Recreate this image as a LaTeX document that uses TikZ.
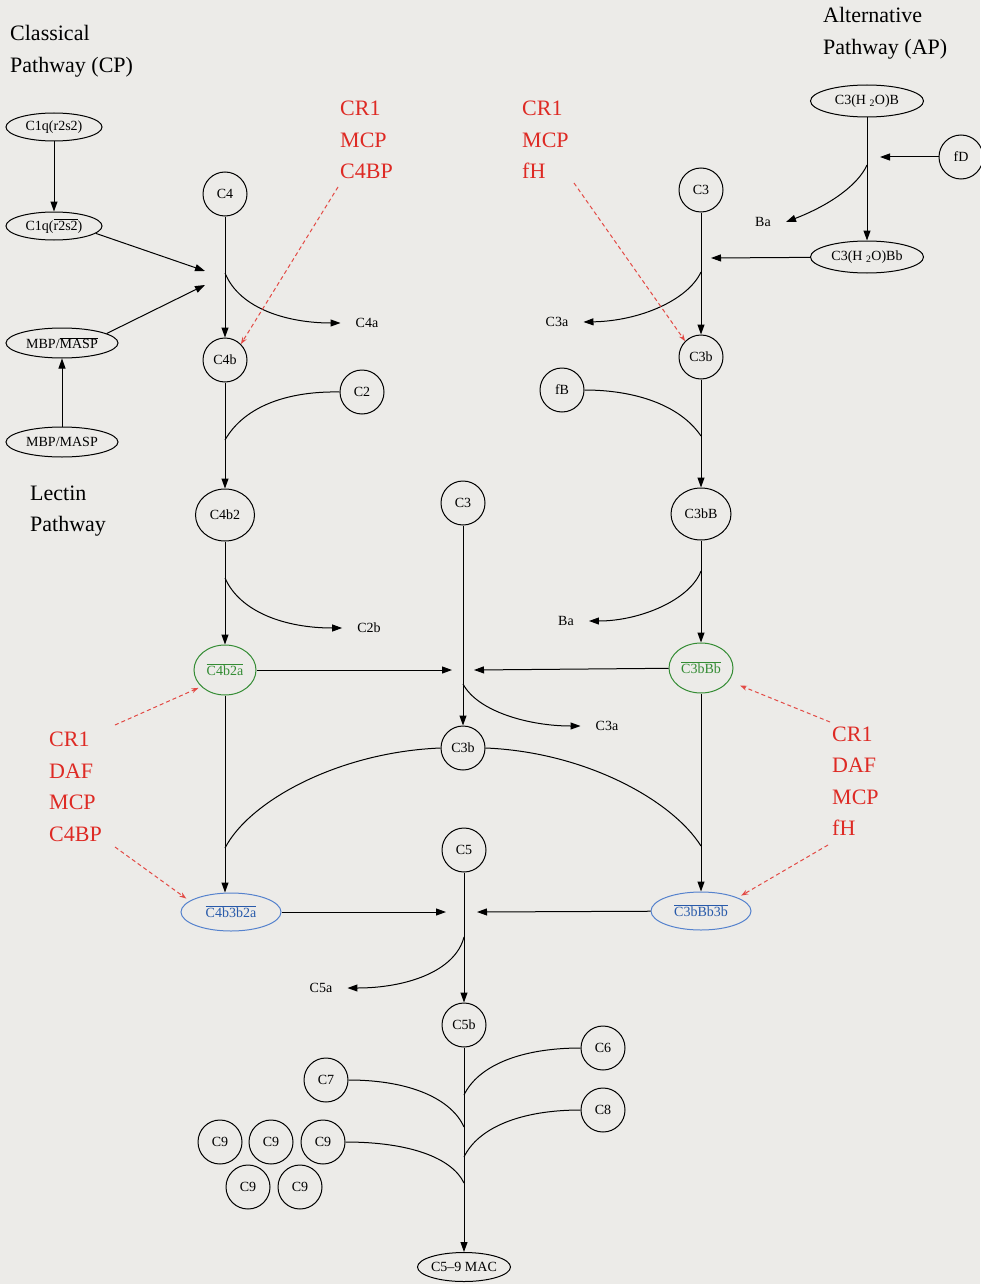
\documentclass[tikz,border=0pt]{standalone}
\usepackage{fontspec}
\setmainfont{Liberation Serif}
\usetikzlibrary{shapes.geometric,arrows.meta}
\definecolor{bg}{RGB}{236,235,232}
\definecolor{redt}{RGB}{222,42,36}
\definecolor{greent}{RGB}{52,140,52}
\definecolor{bluet}{RGB}{40,90,170}
\definecolor{blued}{RGB}{85,130,205}
\newcommand\nodefnt{\fontsize{14}{15}\selectfont}
\newcommand\bigfnt{\fontsize{22}{31.5}\selectfont}
\begin{document}
\begin{tikzpicture}[x=1pt,y=-1pt,
  base/.style={draw,line width=1pt,inner sep=0pt,font=\nodefnt},
  circ/.style={base,circle,minimum size=44pt},
  ell/.style={base,ellipse},
  lbl/.style={font=\nodefnt,inner xsep=15pt,inner ysep=2pt},
  ttl/.style={font=\bigfnt,align=left,anchor=west,inner sep=0pt},
  inh/.style={ttl,text=redt},
  arr/.style={line width=1pt,-{Triangle[length=10pt,width=7pt]}},
  ln/.style={line width=1pt},
  dsh/.style={draw=redt!85,line width=1pt,dash pattern=on 4pt off 3pt,-{Stealth[length=7pt,width=5pt,open]}}]
\fill[bg] (0,0) rectangle (980,1284);
\useasboundingbox (0,0) rectangle (980,1284);

% titles
\node[ttl] (tcp) at (10,51) {Classical\\Pathway (CP)};
\node[ttl] (tap) at (823,33) {Alternative\\Pathway (AP)};
\node[ttl] (tlp) at (30,511) {Lectin\\Pathway};

% inhibitors
\node[inh] (rA) at (340,140) {CR1\\MCP\\C4BP};
\node[inh] (rB) at (522,140) {CR1\\MCP\\fH};
\node[inh] (rC) at (49,787) {CR1\\DAF\\MCP\\C4BP};
\node[inh] (rD) at (832,781) {CR1\\DAF\\MCP\\fH};

% classical / lectin
\node[ell,minimum width=96pt,minimum height=28pt] (c1q) at (54,127) {C1q(r2s2)};
\node[ell,minimum width=96pt,minimum height=28pt] (c1qa) at (54,226) {C1q($\overline{\mbox{r2s2}}$)};
\node[ell,minimum width=112pt,minimum height=30pt] (mbpa) at (62,343) {MBP/$\overline{\mbox{MASP}}$};
\node[ell,minimum width=112pt,minimum height=30pt] (mbp) at (62,442) {MBP/MASP};
\node[circ] (C4) at (225,194) {C4};
\node[circ] (C4b) at (225,360) {C4b};
\node[circ] (C2) at (362,392) {C2};
\node[ell,minimum width=59pt,minimum height=52pt] (C4b2) at (225,515) {C4b2};
\node[ell,draw=greent,text=greent,minimum width=62pt,minimum height=50pt] (C4b2a) at (225,670) {$\overline{\mbox{C4b2a}}$};
\node[ell,draw=blued,text=bluet,minimum width=100pt,minimum height=38pt] (C4b3b2a) at (231,912) {$\overline{\mbox{C4b3b2a}}$};
\node[lbl] (C4a) at (367,323) {C4a};
\node[lbl] (C2b) at (369,628) {C2b};

% middle
\node[circ] (C3m) at (463,503) {C3};
\node[circ] (C3bm) at (463,748) {C3b};
\node[circ] (C5) at (464,850) {C5};
\node[circ] (C5b) at (464,1025) {C5b};
\node[ell,minimum width=92pt,minimum height=29pt] (MAC) at (464,1267) {C5–9 MAC};
\node[lbl] (C3am) at (607,726) {C3a};
\node[lbl] (C5a) at (321,988) {C5a};
\node[circ] (C6) at (603,1048) {C6};
\node[circ] (C7) at (326,1080) {C7};
\node[circ] (C8) at (603,1110) {C8};
\node[circ] (C9a) at (220,1142) {C9};
\node[circ] (C9b) at (271,1142) {C9};
\node[circ] (C9c) at (323,1142) {C9};
\node[circ] (C9d) at (248,1187) {C9};
\node[circ] (C9e) at (300,1187) {C9};

% alternative
\node[ell,minimum width=113pt,minimum height=32pt] (h2ob) at (867,101) {C3(H \textsubscript{2}O)B};
\node[circ] (fD) at (961,157) {fD};
\node[ell,minimum width=113pt,minimum height=32pt] (h2obb) at (867,257) {C3(H \textsubscript{2}O)Bb};
\node[lbl] (Ba1) at (763,222) {Ba};
\node[circ] (C3r) at (701,190) {C3};
\node[circ] (C3br) at (701,357) {C3b};
\node[circ] (fB) at (562,390) {fB};
\node[ell,minimum width=60pt,minimum height=52pt] (C3bB) at (701,514) {C3bB};
\node[ell,draw=greent,text=greent,minimum width=64pt,minimum height=50pt] (C3bBb) at (701,668) {$\overline{\mbox{C3bBb}}$};
\node[ell,draw=blued,text=bluet,minimum width=100pt,minimum height=38pt] (C3bBb3b) at (701,911) {$\overline{\mbox{C3bBb3b}}$};
\node[lbl] (C3ar) at (557,322) {C3a};
\node[lbl] (Ba2) at (566,621) {Ba};

% junction coordinates
\coordinate (p1) at (205,271);
\coordinate (p2) at (205,285);
\coordinate (j1) at (225,273);
\coordinate (j2) at (225,440);
\coordinate (j3) at (225,578);
\coordinate (m1) at (452,670);
\coordinate (m2) at (474,670);
\coordinate (j4) at (463,684);
\coordinate (j5) at (225,848);
\coordinate (j6) at (701,846);
\coordinate (m3) at (446,912);
\coordinate (m4) at (477,912);
\coordinate (j7) at (464,937);
\coordinate (k6) at (464,1095);
\coordinate (k7) at (464,1127);
\coordinate (k8) at (464,1157);
\coordinate (k9) at (464,1183);
\coordinate (a1) at (867,165);
\coordinate (a2) at (880,157);
\coordinate (a3) at (711,258);
\coordinate (b1) at (701,272);
\coordinate (b2) at (701,436);
\coordinate (b3) at (701,571);
\coordinate (sA) at (338,187);
\coordinate (sB) at (574,183);
\coordinate (sC1) at (115,725);
\coordinate (sC2) at (115,847);
\coordinate (sD1) at (830,722);
\coordinate (sD2) at (828,845);

% classical connectors
\draw[arr] (c1q) -- (c1qa);
\draw[arr] (mbp) -- (mbpa);
\draw[arr] (c1qa.-10) -- (p1);
\draw[arr] (mbpa.12) -- (p2);
\draw[arr] (C4) -- (C4b);
\draw[arr] (j1) .. controls (240,310) and (290,323) .. (C4a.west);
\draw[ln] (C2.west) .. controls (290,391) and (245,405) .. (j2);
\draw[arr] (C4b) -- (C4b2);
\draw[arr] (C4b2) -- (C4b2a);
\draw[arr] (j3) .. controls (240,612) and (285,628) .. (C2b.west);
\draw[arr] (C4b2a) -- (m1);
\draw[arr] (C4b2a) -- (C4b2a |- C4b3b2a.north);
\draw[ln] (C3bm.west) .. controls (340,752) and (250,800) .. (j5);

% middle connectors
\draw[arr] (C3m) -- (C3bm);
\draw[arr] (j4) .. controls (478,712) and (530,726) .. (C3am.west);
\draw[arr] (C3bBb) -- (m2);
\draw[ln] (C3bm.east) .. controls (585,752) and (672,800) .. (j6);
\draw[arr] (C4b3b2a) -- (m3);
\draw[arr] (C3bBb3b) -- (m4);
\draw[arr] (C5) -- (C5b);
\draw[arr] (j7) .. controls (455,972) and (405,988) .. (C5a.east);
\draw[arr] (C5b) -- (MAC);
\draw[ln] (C6.west) .. controls (520,1048) and (478,1066) .. (k6);
\draw[ln] (C7.east) .. controls (412,1080) and (452,1100) .. (k7);
\draw[ln] (C8.west) .. controls (520,1110) and (478,1128) .. (k8);
\draw[ln] (C9c.east) .. controls (410,1142) and (452,1158) .. (k9);

% alternative connectors
\draw[arr] (h2ob) -- (h2obb);
\draw[arr] (fD) -- (a2);
\draw[arr] (a1) .. controls (858,185) and (830,205) .. (Ba1.east);
\draw[arr] (h2obb) -- (a3);
\draw[arr] (C3r) -- (C3br);
\draw[arr] (b1) .. controls (688,300) and (640,321) .. (C3ar.east);
\draw[ln] (fB.east) .. controls (635,390) and (680,405) .. (b2);
\draw[arr] (C3br) -- (C3bB);
\draw[arr] (C3bB) -- (C3bBb);
\draw[arr] (b3) .. controls (690,600) and (640,621) .. (Ba2.east);
\draw[arr] (C3bBb) -- (C3bBb3b);

% inhibitor arrows
\draw[dsh] (sA) -- (C4b.45);
\draw[dsh] (sB) -- (C3br.135);
\draw[dsh,shorten >=3pt] (sC1) -- (C4b2a.215);
\draw[dsh,shorten >=4pt] (sC2) -- (C4b3b2a.165);
\draw[dsh,shorten >=12pt] (sD1) -- (C3bBb.-25);
\draw[dsh,shorten >=4pt] (sD2) -- (C3bBb3b.20);
\end{tikzpicture}
\end{document}
